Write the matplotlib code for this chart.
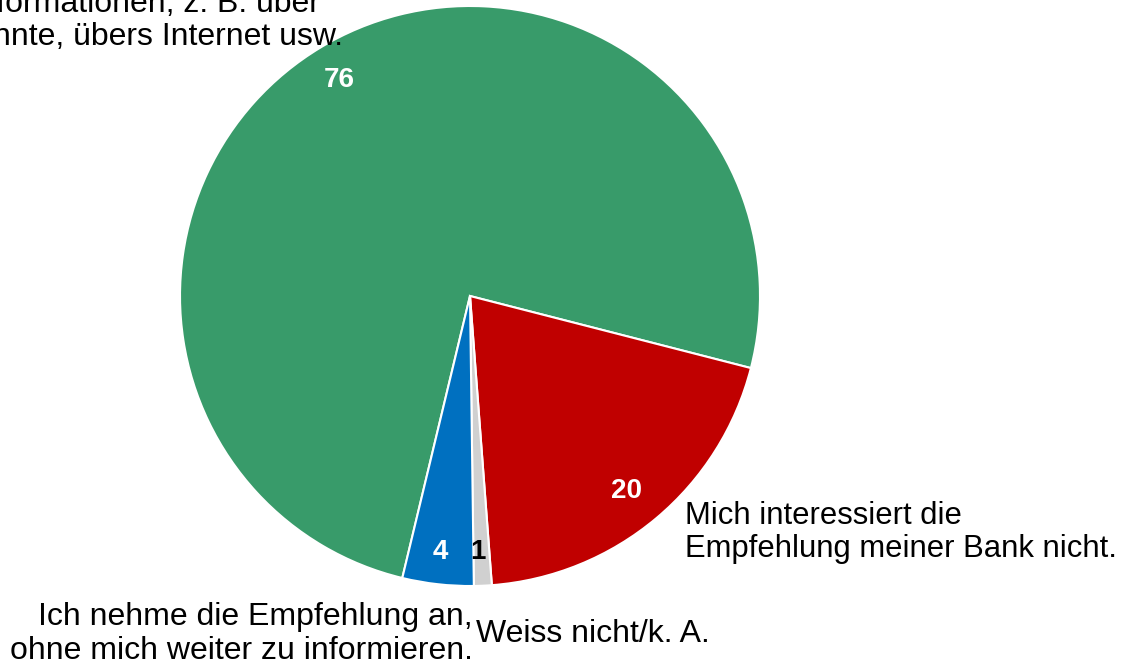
import matplotlib.pyplot as plt

# Antworten auf die Bankempfehlung (in %)
werte = [76, 20, 1, 4]
farben = ["#389B6A", "#C00000", "#D0D0D0", "#0070C0"]
wert_farben = ["white", "white", "black", "white"]

W, H = 1132, 668
plt.rcParams["font.family"] = ["Liberation Sans", "DejaVu Sans"]

fig = plt.figure(figsize=(W / 100, H / 100), dpi=100)

# Kreis: Mittelpunkt (470, 296), Radius 290 px
cx, cy, r = 470, 296, 290
ax = fig.add_axes([(cx - r) / W, (H - cy - r) / H, 2 * r / W, 2 * r / H])
ax.pie(werte, colors=farben, startangle=-103.5, counterclock=False,
       wedgeprops=dict(edgecolor="white", linewidth=1.5, clip_on=False))
ax.set_xlim(-1, 1)
ax.set_ylim(-1, 1)
ax.set_aspect("equal")
ax.axis("off")


def px(x, y):
    return x / W, 1 - y / H


# Zahlen in den Segmenten
wert_pos = [(339, 80), (627, 491), (478, 552), (440, 552)]
for v, (x, y), c in zip(werte, wert_pos, wert_farben):
    fig.text(*px(x, y), str(v), color=c, fontsize=20, fontweight="bold",
             ha="center", va="center")

# Beschriftungen
fig.text(*px(320, 12), "Ich hole zusätzliche Informationen, z. B. über",
         fontsize=23, ha="right", va="baseline")
fig.text(*px(343, 45), "Bekannte, übers Internet usw.",
         fontsize=23, ha="right", va="baseline")

fig.text(*px(685, 524), "Mich interessiert die", fontsize=22.3,
         ha="left", va="baseline")
fig.text(*px(685, 557), "Empfehlung meiner Bank nicht.", fontsize=22.3,
         ha="left", va="baseline")

fig.text(*px(473, 625), "Ich nehme die Empfehlung an,", fontsize=23,
         ha="right", va="baseline")
fig.text(*px(473, 659), "ohne mich weiter zu informieren.", fontsize=23,
         ha="right", va="baseline")

fig.text(*px(476, 642), "Weiss nicht/k. A.", fontsize=23,
         ha="left", va="baseline")

fig.savefig("out.png", dpi=100)
